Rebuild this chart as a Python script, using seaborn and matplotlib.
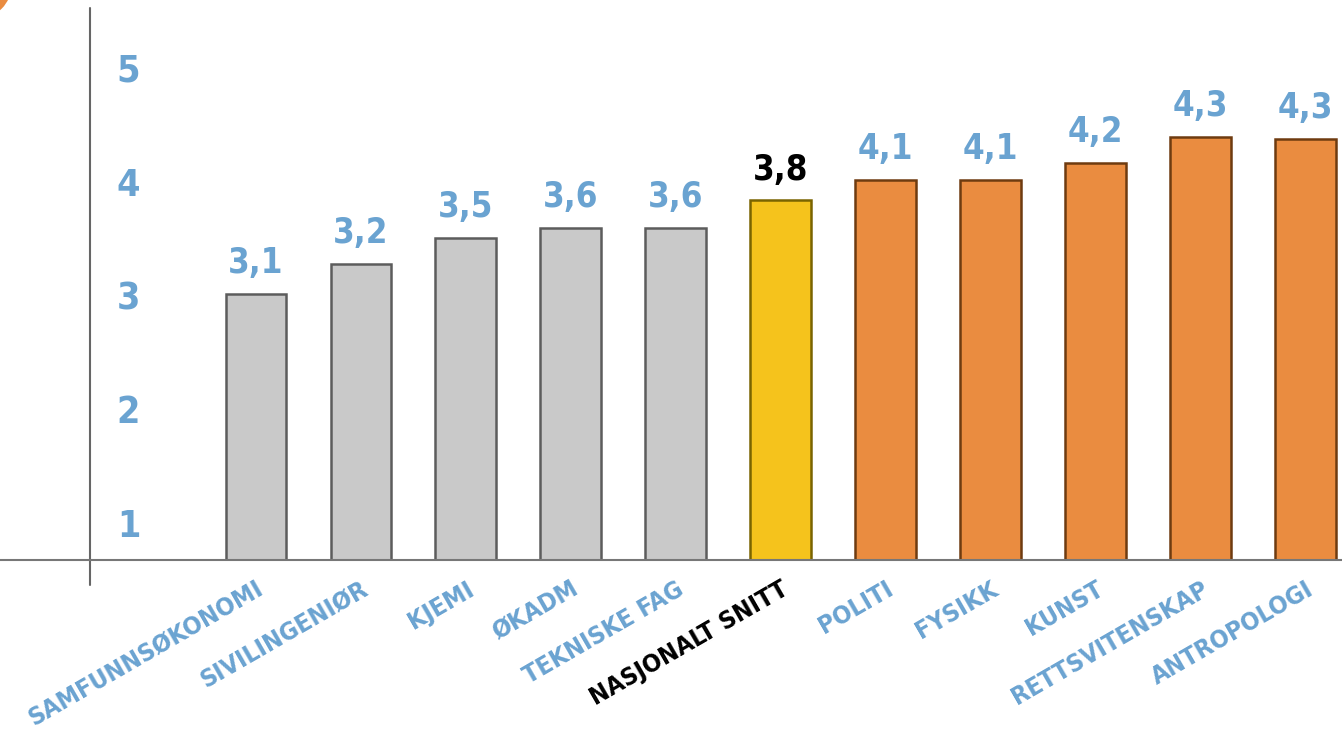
import pandas as pd
import matplotlib.pyplot as plt
import seaborn as sns
from matplotlib.patches import Arc

sns.set_style("white")
plt.rcParams['font.family'] = ['DejaVu Sans']
plt.rcParams['font.stretch'] = 'condensed'

fag = ['SAMFUNNSØKONOMI', 'SIVILINGENIØR', 'KJEMI', 'ØKADM', 'TEKNISKE FAG',
       'NASJONALT SNITT', 'POLITI', 'FYSIKK', 'KUNST', 'RETTSVITENSKAP', 'ANTROPOLOGI']
verdi_tekst = ['3,1', '3,2', '3,5', '3,6', '3,6', '3,8', '4,1', '4,1', '4,2', '4,3', '4,3']
hoyde = [3.05, 3.31, 3.54, 3.63, 3.63, 3.87, 4.05, 4.05, 4.20, 4.43, 4.41]
grupper = ['under', 'under', 'under', 'under', 'under', 'snitt',
           'over', 'over', 'over', 'over', 'over']
yticks = [1, 2, 3, 4, 5]

fyll = {'under': '#c9c9c9', 'snitt': '#f5c31c', 'over': '#ea8c40'}
kant = {'under': '#5c5c5c', 'snitt': '#7a6400', 'over': '#6e3b10'}
blaa = '#6aa3d1'

df = pd.DataFrame({'fag': fag, 'hoyde': hoyde, 'gruppe': grupper})

fig = plt.figure(figsize=(13.42, 7.33), dpi=100)
ax = fig.add_axes([0, 173 / 733, 1, 552 / 733])

sns.barplot(data=df, x='fag', y='hoyde', hue='fag',
            palette=[fyll[g] for g in grupper], width=0.58, saturation=1,
            legend=False, ax=ax)
for bar, g in zip(ax.patches, grupper):
    bar.set_edgecolor(kant[g])
    bar.set_linewidth(1.8)

ax.set_xlim(-2.44, 10.35)
ax.set_ylim(0.71, 5.56)
for s in ax.spines.values():
    s.set_visible(False)
ax.set_xlabel('')
ax.set_ylabel('')
ax.set_yticks([])
ax.set_xticks([])

# axis lines
ax.axhline(0.71, color='#777777', lw=1.5, clip_on=False, zorder=5)
ax.axvline(-1.58, ymin=-25 / 552, ymax=1, color='#666666', lw=1.5, clip_on=False)

# y tick labels inside the plot
for t in yticks:
    ax.text(-1.215, t, str(t), color=blaa, fontsize=27, fontweight='bold',
            ha='center', va='center')

# value labels
for i, (h, txt, g) in enumerate(zip(hoyde, verdi_tekst, grupper)):
    ax.text(i, h + 0.12, txt, color='black' if g == 'snitt' else blaa,
            fontsize=25, fontweight='bold', ha='center', va='bottom')

# rotated category labels
for i, (navn, g) in enumerate(zip(fag, grupper)):
    ax.text(i + 0.0, 0.56, navn, color='black' if g == 'snitt' else blaa,
            fontsize=18, fontweight='bold', rotation=30,
            ha='right', va='top', rotation_mode='anchor')

# orange corner decoration
bue = Arc((-22, 748), 60, 60, theta1=270, theta2=360, color='#ea8c40', lw=5)
fig.patches.append(bue)
bue.set_transform(None)

fig.savefig('out.png', dpi=100)
